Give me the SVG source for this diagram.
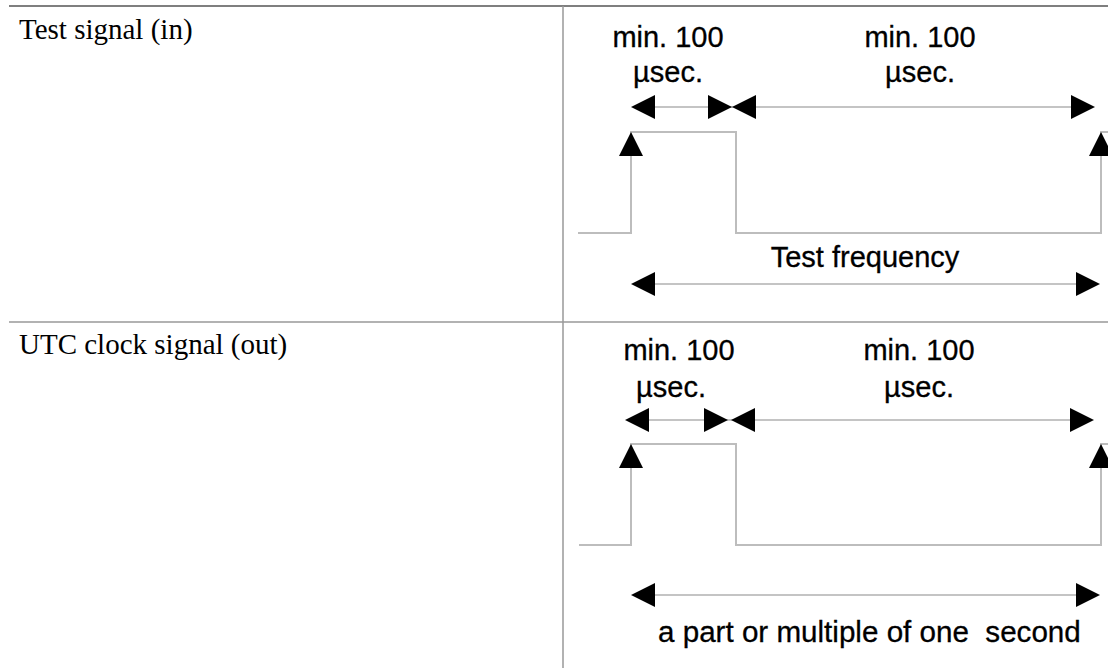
<svg xmlns="http://www.w3.org/2000/svg" xmlns:xlink="http://www.w3.org/1999/xlink" width="1108" height="668" viewBox="0 0 1108 668">
<style>
.lbl{font-family:"Liberation Serif","Times New Roman",serif;font-size:29px;fill:#000}
.t{font-family:"Liberation Sans",Arial,Helvetica,sans-serif;font-size:29px;fill:#000;text-anchor:middle;stroke:#000;stroke-width:0.3}
.ts{font-family:"Liberation Sans",Arial,Helvetica,sans-serif;font-size:29.6px;fill:#000;white-space:pre;stroke:#000;stroke-width:0.3}
.sig{fill:none;stroke:#bdbdbd;stroke-width:2}
.dim{fill:none;stroke:#c4c4c4;stroke-width:2}
.head{fill:#000}
</style>
<defs>
<polygon id="hl" class="head" points="0,0 24,-12 24,12"/>
<polygon id="hr" class="head" points="0,0 -24,-12 -24,12"/>
<polygon id="hu" class="head" points="0,0 -12,24 12,24"/>
</defs>
<g id="table">
<line x1="9" y1="6" x2="1108" y2="6" stroke="#555" stroke-width="1.5"/>
<line x1="9" y1="322" x2="1108" y2="322" stroke="#999" stroke-width="1.5"/>
<line x1="563" y1="6" x2="563" y2="668" stroke="#999" stroke-width="1.5"/>
</g>
<g id="row1-label"><text class="lbl" x="19" y="39">Test signal (in)</text></g>
<g id="row2-label"><text class="lbl" x="19" y="354">UTC clock signal (out)</text></g>
<g id="row1-signal">
<polyline class="sig" points="578,233 631,233 631,132 736,132 736,233 1101,233 1101,132 1108,132"/>
<text class="t" x="668" y="47">min. 100</text>
<text class="t" x="668" y="82">µsec.</text>
<text class="t" x="920" y="47">min. 100</text>
<text class="t" x="920" y="82">µsec.</text>
<text class="t" x="865" y="267">Test frequency</text>
</g>
<g id="row2-signal">
<polyline class="sig" points="579,545 631,545 631,444 736,444 736,545 1101,545 1101,444 1108,444"/>
<text class="t" x="679" y="360">min. 100</text>
<text class="t" x="671" y="397">µsec.</text>
<text class="t" x="919" y="360">min. 100</text>
<text class="t" x="919" y="397">µsec.</text>
<text class="ts" x="658" y="642">a part or multiple of one  second</text>
</g>
<g id="connectors">
<line class="dim" x1="640" y1="107" x2="1085" y2="107"/>
<use xlink:href="#hl" x="631" y="107"/>
<use xlink:href="#hr" x="732" y="107"/>
<use xlink:href="#hl" x="732" y="107"/>
<use xlink:href="#hr" x="1095" y="107"/>
<use xlink:href="#hu" x="631" y="132"/>
<use xlink:href="#hu" x="1101" y="132"/>
<line class="dim" x1="640" y1="284" x2="1090" y2="284"/>
<use xlink:href="#hl" x="631" y="284"/>
<use xlink:href="#hr" x="1100" y="284"/>
<line class="dim" x1="634" y1="420" x2="1085" y2="420"/>
<use xlink:href="#hl" x="625" y="420"/>
<use xlink:href="#hr" x="728" y="420"/>
<use xlink:href="#hl" x="731" y="420"/>
<use xlink:href="#hr" x="1094" y="420"/>
<use xlink:href="#hu" x="631" y="444"/>
<use xlink:href="#hu" x="1101" y="444"/>
<line class="dim" x1="640" y1="595" x2="1090" y2="595"/>
<use xlink:href="#hl" x="631" y="595"/>
<use xlink:href="#hr" x="1100" y="595"/>
</g>
</svg>
